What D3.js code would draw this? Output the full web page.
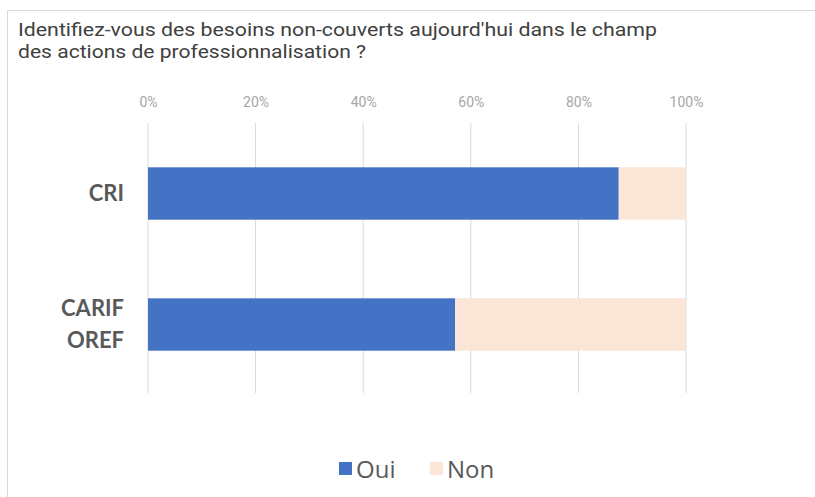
<!DOCTYPE html>
<html><head><meta charset="utf-8">
<script src="https://cdn.jsdelivr.net/npm/d3@7"></script>
<style>body{margin:0;background:#fff}svg{display:block}</style>
</head><body>
<svg id="c" width="815" height="497"></svg>
<script>
const categories = [["CRI"], ["CARIF", "OREF"]];
const oui = [0.875, 0.571];
const non = [0.125, 0.429];
const ticks = [0, 0.2, 0.4, 0.6, 0.8, 1.0];
const seriesNames = ["Oui", "Non"];
const colors = ["#4472C4", "#FBE5D6"];
const titleLines = ["Identifiez-vous des besoins non-couverts aujourd'hui dans le champ", "des actions de professionnalisation ?"];

const svg = d3.select("#c");
svg.append("rect").attr("x", 7.5).attr("y", 10.5).attr("width", 820).attr("height", 500)
  .attr("fill", "none").attr("stroke", "#d9d9d9");

const tl = [639, 348];
svg.selectAll("text.title").data(titleLines).join("text")
  .attr("x", 18).attr("y", (d, i) => 36 + i * 22)
  .attr("font-family", "Roboto").attr("font-size", 19).attr("fill", "#404040")
  .attr("textLength", (d, i) => tl[i]).attr("lengthAdjust", "spacingAndGlyphs")
  .text(d => d);

const x = d3.scaleLinear().domain([0, 1]).range([148, 686]);
const y = d3.scaleBand().domain(categories.map(d => d.join(" "))).range([128, 390]).paddingInner(0.6).paddingOuter(0.3);

const g = svg.append("g");
const ax = d3.axisTop(x).tickValues(ticks).tickFormat(d3.format(".0%")).tickSize(0);
const axg = g.append("g").attr("transform", "translate(0,110)").call(ax);
axg.select(".domain").remove();
axg.selectAll("text").attr("font-family", "Liberation Sans Narrow, Roboto").attr("font-size", 14).attr("fill", "#a6a6a6");

g.selectAll("line.grid").data(ticks).join("line")
  .attr("x1", d => x(d)).attr("x2", d => x(d)).attr("y1", 123).attr("y2", 393)
  .attr("stroke", "#d9d9d9").attr("stroke-width", 1);

const stack = categories.map((c, i) => ({key: c.join(" "), lines: c, vals: [oui[i], non[i]]}));
stack.forEach(s => {
  let acc = 0;
  s.vals.forEach((v, j) => {
    g.append("rect").attr("x", x(acc)).attr("width", x(acc + v) - x(acc))
      .attr("y", y(s.key)).attr("height", y.bandwidth()).attr("fill", colors[j]);
    acc += v;
  });
  const cy = y(s.key) + y.bandwidth() / 2;
  const n = s.lines.length;
  s.lines.forEach((l, k) => {
    g.append("text").attr("x", 124).attr("y", cy + (k - (n - 1) / 2) * 32)
      .attr("dy", "0.36em").attr("text-anchor", "end")
      .attr("font-family", "Lato").attr("font-weight", "bold").attr("font-size", 22).attr("fill", "#595959")
      .text(l);
  });
});

const leg = svg.append("g");
const lx = [339, 430];
seriesNames.forEach((nm, i) => {
  leg.append("rect").attr("x", lx[i]).attr("y", 462).attr("width", 13).attr("height", 13).attr("fill", colors[i]);
  leg.append("text").attr("x", lx[i] + 17).attr("y", 469).attr("dy", "0.36em")
    .attr("font-family", "Open Sans").attr("font-size", 24).attr("fill", "#595959").text(nm);
});
</script>
</body></html>
